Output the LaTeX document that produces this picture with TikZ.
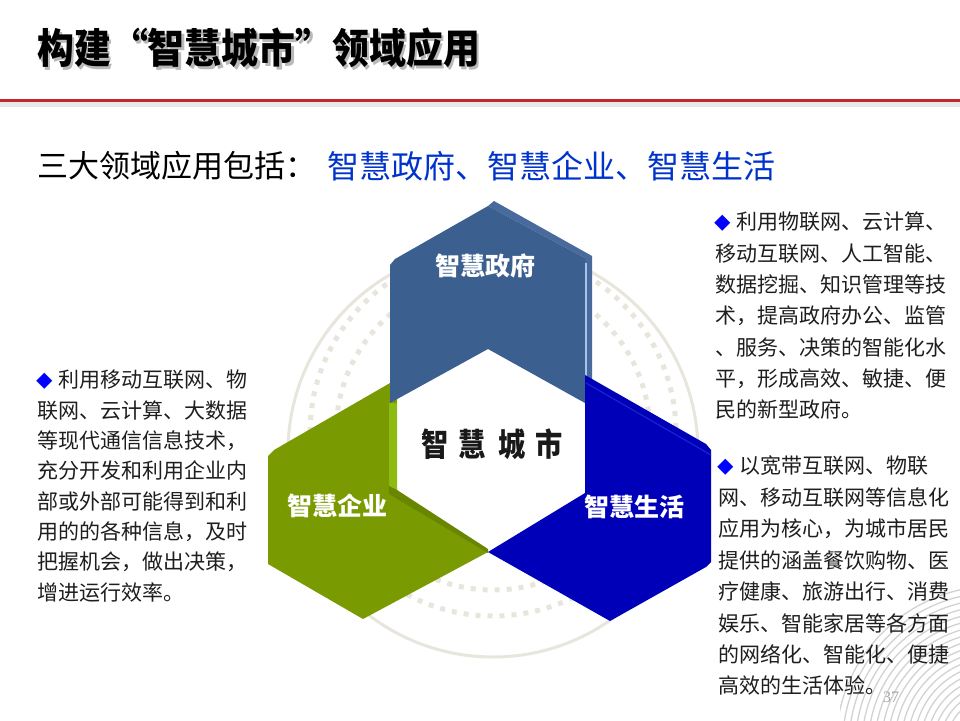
\documentclass[tikz,border=0pt]{standalone}
\usepackage{fontspec}
\usepackage{graphicx}
\setmainfont{Noto Sans CJK SC}
\newfontfamily\pnfont{Liberation Serif}
\definecolor{topc}{RGB}{59,96,143}
\definecolor{topside}{RGB}{72,106,156}
\definecolor{topline}{RGB}{167,196,236}
\definecolor{greenc}{RGB}{122,154,1}
\definecolor{greenlight}{RGB}{141,187,20}
\definecolor{greendark}{RGB}{104,134,0}
\definecolor{bluec}{RGB}{0,0,185}
\definecolor{bluehi}{RGB}{30,40,210}
\definecolor{ringc}{RGB}{232,230,220}
\definecolor{redline}{RGB}{192,39,45}
\definecolor{subblue}{RGB}{0,51,204}
\definecolor{diablue}{RGB}{0,0,255}
\definecolor{bodyc}{RGB}{30,30,30}
\newcommand{\dia}{\makebox[1em][l]{\hspace{-1pt}\raisebox{0.5pt}{\textcolor{diablue}{\fontsize{16.5pt}{16.5pt}\selectfont ◆}}}}
\begin{document}
\begin{tikzpicture}[x=1pt,y=-1pt,
  body/.style={anchor=west, inner sep=0pt, text=bodyc, font=\fontsize{21pt}{21pt}\selectfont},
  piecelabel/.style={text=white, inner sep=0pt, font=\bfseries\fontsize{25pt}{25pt}\selectfont},
  citychar/.style={inner sep=0pt, text=black!90, font=\bfseries\fontsize{32pt}{32pt}\selectfont},
  titlestyle/.style={anchor=west, inner sep=0pt, font=\bfseries\fontsize{41pt}{41pt}\selectfont},
  ring/.style={ringc, line width=5pt, dash pattern=on 5pt off 7pt},
  deco/.style={gray!35, line width=1.3pt}
]
\useasboundingbox (0,0) rectangle (960,720);
\fill[white] (0,0) rectangle (960,720);

% corner decoration
\begin{scope}
  \clip (840,570) rectangle (960,720);
  \foreach \r in {16,22.5,...,160} \draw[deco] (995,745) circle[radius=\r];
\end{scope}

% title
\node[titlestyle, text=gray!55] (titleshadow) at (39.5,50.5) {\scalebox{0.9}[1]{构建“智慧城市”领域应用}};
\node[titlestyle, text=black] (title) at (37,48) {\scalebox{0.9}[1]{构建“智慧城市”领域应用}};
\fill[gray!18] (0,102) rectangle (960,107);
\fill[redline] (0,98.5) rectangle (960,102);

% subtitle
\node[anchor=west, inner sep=0pt, font=\fontsize{31pt}{31pt}\selectfont] (sub1) at (37,166) {三大领域应用包括：};
\node[anchor=west, inner sep=0pt, text=subblue, font=\fontsize{32pt}{32pt}\selectfont] (sub2) at (327,166) {智慧政府、智慧企业、智慧生活};

% background rings
\draw[ringc, line width=3pt] (493,452) circle[radius=205];
\draw[ring] (493,433) circle[radius=183];
\draw[ring] (493,433) circle[radius=157];

% green piece
\fill[greenc] (268,456) -- (274,450) -- (397,379) -- (397,490) -- (488,552) -- (363,619) -- (268,564) -- cycle;
% white centre
\fill[white] (397,400) -- (488,349) -- (585,403) -- (585,493) -- (488,550) -- (397,490) -- cycle;
\fill[greenlight] (389,403) -- (397,403) -- (397,490) -- (389,486) -- cycle;
\fill[greendark] (389,486) -- (397,490) -- (488,549) -- (488,553) -- (389,494) -- cycle;
% top piece
\fill[topside] (488,206) -- (494,201) -- (592,256) -- (592,400) -- (585,403) -- (585,258) -- cycle;
\fill[topc] (390,265) -- (395,259) -- (488,206) -- (585,258) -- (585,403) -- (488,349) -- (390,403) -- cycle;
\draw[topline, line width=1.5pt] (585.8,263) -- (585.8,398);
% blue piece
\fill[bluec] (585,375) -- (706,444) -- (711,450) -- (711,562) -- (706,567) -- (610,621) -- (488,552) -- (585,493) -- cycle;
\draw[bluehi, line width=1pt] (586,383) -- (711,455);

% labels
\node[piecelabel] (gov) at (485,266) {智慧政府};
\node[piecelabel] (ent) at (337,506) {智慧企业};
\node[piecelabel] (life) at (634,507) {智慧生活};
\foreach \ch/\x [count=\i] in {智/435.5, 慧/472, 城/512.5, 市/549.5}
  \node[citychar] (city\i) at (\x,444) {\scalebox{0.85}[1]{\ch}};

% text blocks
\foreach \t [count=\i] in {{\dia 利用移动互联网、物},{联网、云计算、大数据},{等现代通信信息技术，},{充分开发和利用企业内},{部或外部可能得到和利},{用的的各种信息，及时},{把握机会，做出决策，},{增进运行效率。}}
  \node[body] (left\i) at (37,{380+30.3*(\i-1)}) {\t};
\foreach \t [count=\i] in {{\dia 利用物联网、云计算、},{移动互联网、人工智能、},{数据挖掘、知识管理等技},{术，提高政府办公、监管},{、服务、决策的智能化水},{平，形成高效、敏捷、便},{民的新型政府。}}
  \node[body] (gtext\i) at (715,{222+31.3*(\i-1)}) {\t};
\foreach \t [count=\i] in {{\dia 以宽带互联网、物联},{网、移动互联网等信息化},{应用为核心，为城市居民},{提供的涵盖餐饮购物、医},{疗健康、旅游出行、消费},{娱乐、智能家居等各方面},{的网络化、智能化、便捷},{高效的生活体验。}}
  \node[body] (ltext\i) at (718,{466+31.4*(\i-1)}) {\t};

\node[font=\pnfont\fontsize{16pt}{16pt}\selectfont, text=gray!70, inner sep=0pt] (pnum) at (891,697) {37};
\end{tikzpicture}
\end{document}
